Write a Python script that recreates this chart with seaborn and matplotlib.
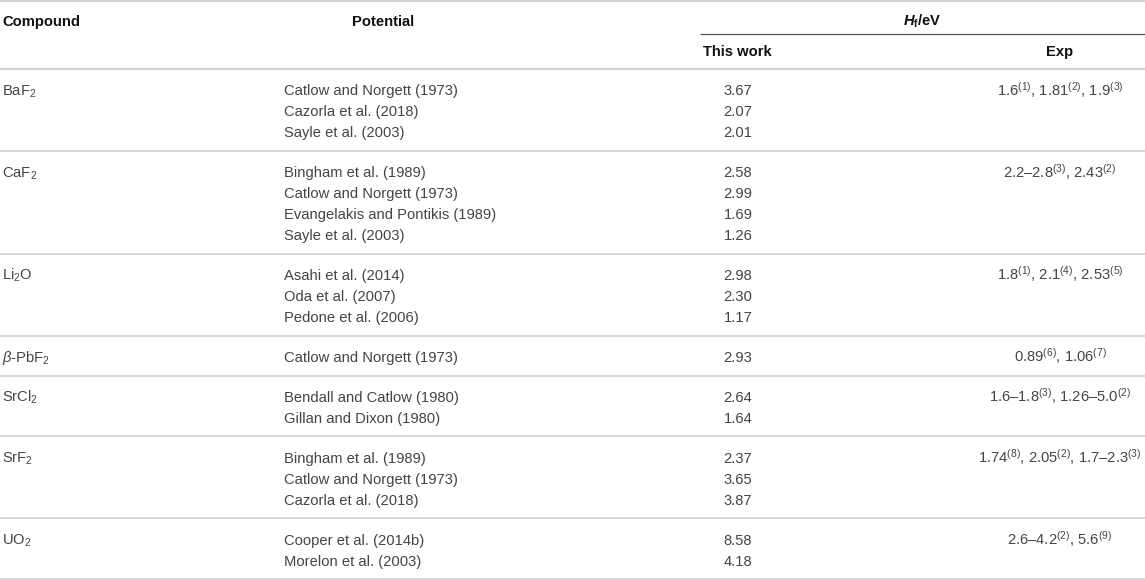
import matplotlib
matplotlib.use("Agg")
import matplotlib.pyplot as plt
import seaborn as sns

# Table content
compounds = ["BaF$_2$", "CaF$_2$", "Li$_2$O", r"$\beta$-PbF$_2$", "SrCl$_2$", "SrF$_2$", "UO$_2$"]
potentials = [
    ["Catlow and Norgett (1973)", "Cazorla et al. (2018)", "Sayle et al. (2003)"],
    ["Bingham et al. (1989)", "Catlow and Norgett (1973)",
     "Evangelakis and Pontikis (1989)", "Sayle et al. (2003)"],
    ["Asahi et al. (2014)", "Oda et al. (2007)", "Pedone et al. (2006)"],
    ["Catlow and Norgett (1973)"],
    ["Bendall and Catlow (1980)", "Gillan and Dixon (1980)"],
    ["Bingham et al. (1989)", "Catlow and Norgett (1973)", "Cazorla et al. (2018)"],
    ["Cooper et al. (2014b)", "Morelon et al. (2003)"],
]
this_work = [
    [3.67, 2.07, 2.01],
    [2.58, 2.99, 1.69, 1.26],
    [2.98, 2.30, 1.17],
    [2.93],
    [2.64, 1.64],
    [2.37, 3.65, 3.87],
    [8.58, 4.18],
]
exp_values = [
    "1.6$^{(1)}$, 1.81$^{(2)}$, 1.9$^{(3)}$",
    "2.2–2.8$^{(3)}$, 2.43$^{(2)}$",
    "1.8$^{(1)}$, 2.1$^{(4)}$, 2.53$^{(5)}$",
    "0.89$^{(6)}$, 1.06$^{(7)}$",
    "1.6–1.8$^{(3)}$, 1.26–5.0$^{(2)}$",
    "1.74$^{(8)}$, 2.05$^{(2)}$, 1.7–2.3$^{(3)}$",
    "2.6–4.2$^{(2)}$, 5.6$^{(9)}$",
]

sns.set_theme(style="white")
plt.rcParams["font.family"] = ["Liberation Sans", "DejaVu Sans"]
plt.rcParams["mathtext.fontset"] = "custom"
plt.rcParams["mathtext.rm"] = "Liberation Sans"
plt.rcParams["mathtext.it"] = "Liberation Sans:italic"
plt.rcParams["mathtext.bf"] = "Liberation Sans:bold"
plt.rcParams["mathtext.bfit"] = "Liberation Sans:italic:bold"

W, H = 1145, 580
fig = plt.figure(figsize=(W / 100, H / 100), dpi=100)
ax = fig.add_axes([0, 0, 1, 1])
ax.set_xlim(0, W)
ax.set_ylim(H, 0)
ax.axis("off")

fs = 10.6
body = "#444444"
head = "#111111"
rule = "#d4d4d4"
base = 5.3  # centre-to-baseline offset in px

x_comp, x_pot, x_this, x_exp = 2, 284, 738, 1060

# Header
ax.hlines(1, 0, W, color=rule, lw=1.6)
ax.text(x_comp, 21 + base, "Compound", fontsize=fs, weight="bold", color=head, va="baseline")
ax.text(383, 21 + base, "Potential", fontsize=fs, weight="bold", color=head,
        va="baseline", ha="center")
ax.text(922, 20 + base, r"$\mathbfit{H}_{\mathbf{f}}$/eV", fontsize=fs, weight="bold",
        color=head, va="baseline", ha="center")
ax.hlines(33.5, 700, W, color="#555555", lw=0.9)
ax.text(737, 51 + base, "This work", fontsize=fs, weight="bold", color=head,
        va="baseline", ha="center")
ax.text(1060, 51 + base, "Exp", fontsize=fs, weight="bold", color=head,
        va="baseline", ha="center")
ax.hlines(69, 0, W, color=rule, lw=1.6)

# Body
row_h, pad = 21, 18.9
y0 = 69
for comp, pots, vals, exp in zip(compounds, potentials, this_work, exp_values):
    first = y0 + row_h
    ax.text(x_comp, first + base, comp, fontsize=fs, color=body, va="baseline")
    ax.text(x_exp, first + base, exp, fontsize=fs, color=body, va="baseline", ha="center")
    for i, (p, v) in enumerate(zip(pots, vals)):
        y = first + i * row_h
        ax.text(x_pot, y + base, p, fontsize=fs, color=body, va="baseline")
        ax.text(x_this, y + base, f"{v:.2f}", fontsize=fs, color=body,
                va="baseline", ha="center")
    y0 = y0 + len(pots) * row_h + pad
    ax.hlines(y0, 0, W, color=rule, lw=1.3)

fig.savefig("out.png", dpi=100)
